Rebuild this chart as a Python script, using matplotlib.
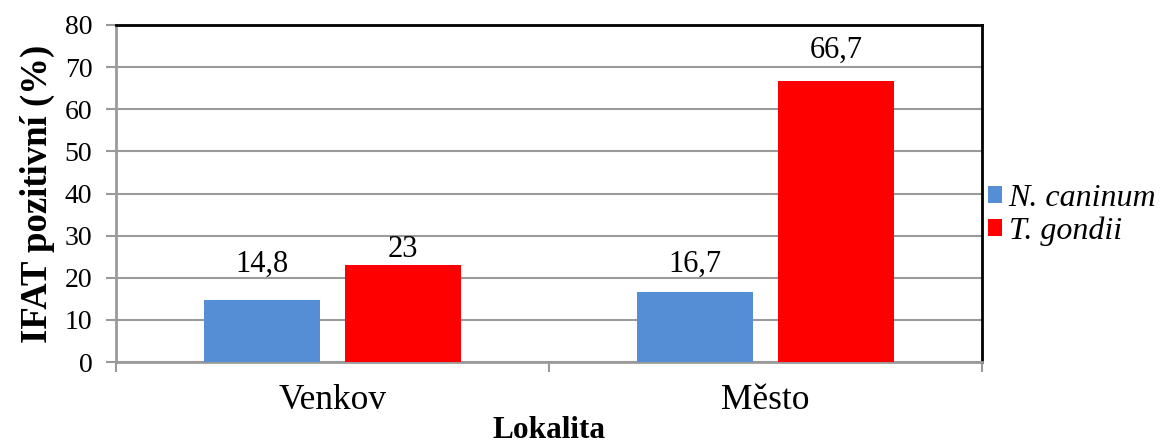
import numpy as np
import matplotlib.pyplot as plt

plt.rcParams['font.family'] = ['Liberation Serif', 'DejaVu Serif']

# Data
lokality = ["Venkov", "Město"]
n_caninum = [14.8, 16.7]
t_gondii = [23, 66.7]
labels_nc = ["14,8", "16,7"]
labels_tg = ["23", "66,7"]

# label gap above each bar (pixels, to the baseline)
gap_nc = [28, 20]
gap_tg = [8, 23]

grid_col = "#9a9a9a"

fig = plt.figure(figsize=(11.61, 4.45), dpi=100)
ax = fig.add_axes([116 / 1161, 1 - 362 / 445, (982 - 116) / 1161, (362 - 25) / 445])

x = np.arange(len(lokality))
w = 0.268
off = 0.163
b1 = ax.bar(x - off, n_caninum, w, color="#558ED5", label="N. caninum", zorder=3)
b2 = ax.bar(x + off, t_gondii, w, color="#FF0000", label="T. gondii", zorder=3)

for bars, labs, gaps in ((b1, labels_nc, gap_nc), (b2, labels_tg, gap_tg)):
    for rect, lab, g in zip(bars, labs, gaps):
        ax.annotate(lab, (rect.get_x() + rect.get_width() / 2, rect.get_height()),
                    xytext=(0, g), textcoords="offset pixels",
                    ha="center", va="baseline", fontsize=22)

ax.set_xlim(-0.5, 1.5)
ax.set_ylim(0, 80)
ax.set_yticks(np.arange(0, 81, 10))
ax.yaxis.grid(True, color=grid_col, linewidth=1.5, zorder=0)
ax.set_axisbelow(True)

# category boundaries as major ticks, names on minor ticks
ax.set_xticks([-0.5, 0.5, 1.5])
ax.set_xticklabels([])
ax.set_xticks(x, minor=True)
ax.set_xticklabels(lokality, minor=True, fontsize=25.5)
ax.tick_params(axis="x", which="minor", length=0, pad=16)
ax.tick_params(axis="x", which="major", length=7, width=1.5, color=grid_col)
ax.tick_params(axis="y", length=7, width=1.5, color=grid_col, labelsize=20, pad=10)

for s in ("left", "bottom"):
    ax.spines[s].set_color(grid_col)
    ax.spines[s].set_linewidth(2)
for s in ("top", "right"):
    ax.spines[s].set_color("black")
    ax.spines[s].set_linewidth(2)

ax.set_ylabel("IFAT pozitivní (%)", fontsize=26.5, fontweight="bold", labelpad=7)
ax.set_xlabel("Lokalita", fontsize=22.5, fontweight="bold", labelpad=-1)

leg = fig.legend(handles=[b1, b2], loc="upper left", bbox_to_anchor=(986 / 1161, 1 - 182 / 445),
                 frameon=False, prop={"style": "italic", "size": 23},
                 handlelength=0.46, handleheight=0.46, handletextpad=0.2,
                 labelspacing=0.12, borderaxespad=0, borderpad=0.05)

fig.savefig("out.png", dpi=100)
